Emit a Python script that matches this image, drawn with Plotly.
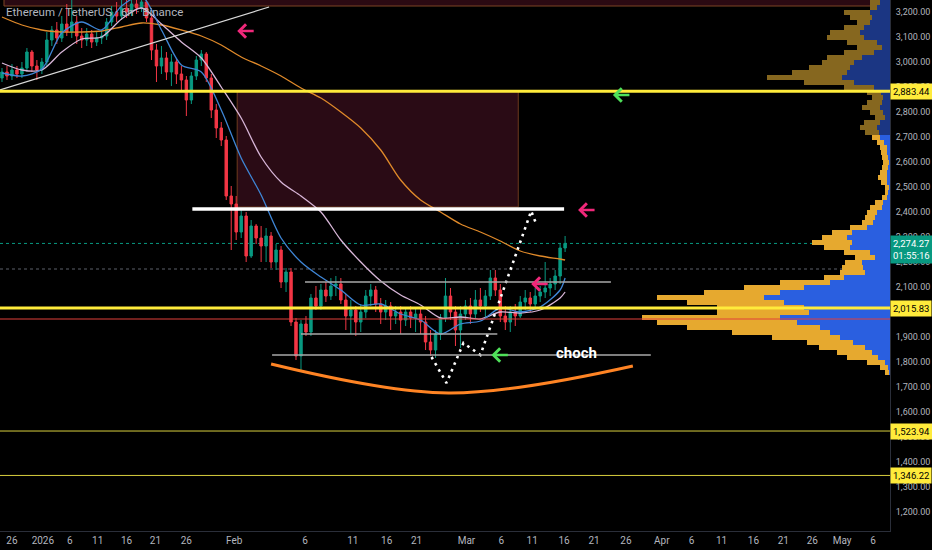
import plotly.graph_objects as go

# ETH/USDT 6h candles as they appear on the chart (one entry per drawn bar)
opens = [2936, 2960, 2944, 2968, 2952, 2976, 3040, 2984, 2968, 3000,
         3088, 3128, 3096, 3152, 3120, 3160, 3104, 3088, 3112, 3080,
         3096, 3104, 3160, 3200, 3184, 3216, 3200, 3232, 3216, 3240,
         3176, 3048, 2984, 3016, 2960, 3000, 2952, 2928, 2848, 2944,
         3008, 3032, 2936, 2808, 2736, 2688, 2464, 2432, 2320, 2384,
         2224, 2344, 2296, 2264, 2304, 2200, 2248, 2120, 2160, 1960,
         1824, 1952, 1920, 2056, 2024, 2088, 2064, 2104, 2112, 2048,
         1984, 2008, 1960, 2000, 2064, 2088, 2032, 2000, 2024, 1984,
         2000, 1968, 2000, 1976, 1992, 1960, 1880, 1848, 1912, 1976,
         2064, 2000, 1928, 1992, 2024, 1992, 2048, 2024, 2064, 2136,
         2088, 1984, 1960, 2000, 1984, 2040, 2056, 2032, 2064, 2080,
         2096, 2112, 2144, 2256]
highs = [2976, 2984, 2992, 2984, 3000, 3056, 3048, 3008, 3016, 3120,
         3144, 3160, 3184, 3232, 3248, 3184, 3136, 3136, 3128, 3120,
         3128, 3176, 3224, 3240, 3256, 3264, 3272, 3280, 3288, 3264,
         3192, 3072, 3064, 3040, 3032, 3016, 2984, 2944, 2960, 3024,
         3048, 3040, 2952, 2832, 2760, 2704, 2504, 2464, 2408, 2400,
         2368, 2352, 2344, 2336, 2320, 2272, 2264, 2176, 2176, 1976,
         1968, 1984, 2072, 2104, 2112, 2120, 2136, 2144, 2136, 2072,
         2048, 2024, 2032, 2088, 2112, 2104, 2056, 2048, 2040, 2024,
         2024, 2016, 2024, 2016, 2016, 1984, 1928, 1928, 1992, 2136,
         2096, 2024, 2024, 2048, 2056, 2088, 2096, 2088, 2168, 2168,
         2112, 2024, 2024, 2032, 2064, 2088, 2080, 2096, 2104, 2200,
         2136, 2168, 2272, 2304]
lows = [2920, 2928, 2928, 2936, 2936, 2960, 2960, 2928, 2952, 2984,
        3064, 3072, 3080, 3104, 3096, 3072, 3056, 3064, 3056, 3064,
        3072, 3088, 3144, 3160, 3168, 3176, 3184, 3192, 3200, 3160,
        3008, 2920, 2952, 2928, 2904, 2912, 2888, 2784, 2832, 2928,
        2984, 2920, 2776, 2696, 2664, 2448, 2248, 2288, 2296, 2200,
        2216, 2272, 2200, 2200, 2176, 2168, 2096, 2080, 1944, 1808,
        1760, 1904, 1904, 2008, 2008, 2040, 2048, 2064, 2032, 1928,
        1912, 1904, 1920, 1976, 2024, 2000, 1952, 1968, 1928, 1952,
        1912, 1944, 1936, 1920, 1912, 1848, 1824, 1816, 1888, 1960,
        1968, 1864, 1856, 1968, 1952, 1976, 2000, 1976, 2048, 2064,
        1960, 1928, 1920, 1944, 1976, 2008, 2000, 2016, 2040, 2056,
        2064, 2088, 2112, 2240]
closes = [2960, 2944, 2968, 2952, 2976, 3040, 2984, 2968, 3000, 3088,
          3128, 3096, 3152, 3120, 3160, 3104, 3088, 3112, 3080, 3096,
          3104, 3160, 3200, 3184, 3216, 3200, 3232, 3216, 3240, 3176,
          3048, 2984, 3016, 2960, 3000, 2952, 2928, 2848, 2944, 3008,
          3032, 2936, 2808, 2736, 2688, 2464, 2432, 2320, 2384, 2224,
          2344, 2296, 2264, 2304, 2200, 2248, 2120, 2160, 1960, 1824,
          1952, 1920, 2056, 2024, 2088, 2064, 2104, 2112, 2048, 1984,
          2008, 1960, 2000, 2064, 2088, 2032, 2000, 2024, 1984, 2000,
          1968, 2000, 1976, 1992, 1960, 1880, 1848, 1912, 1976, 2064,
          2000, 1928, 1992, 2024, 1992, 2048, 2024, 2064, 2136, 2088,
          1984, 1960, 2000, 1984, 2040, 2056, 2032, 2064, 2080, 2096,
          2112, 2144, 2256, 2274.27]

# moving averages every 4th bar
ema_bars = [0, 4, 8, 12, 16, 20, 24, 28, 32, 36, 40, 44, 48, 52, 56,
            60, 64, 68, 72, 76, 80, 84, 88, 92, 96, 100, 104, 108, 112, 113]
ema_fast = [2956, 2944, 2972, 3116, 3160, 3128, 3224, 3264, 3128, 2988,
            2960, 2808, 2616, 2468, 2296, 2200, 2140, 2088, 2028, 2032,
            1992, 1968, 1912, 1952, 1964, 2016, 2000, 2020, 2088, 2136]
ema_mid = [2996, 2968, 2968, 3040, 3092, 3100, 3172, 3216, 3152, 3080,
           3016, 2900, 2776, 2620, 2520, 2464, 2400, 2288, 2200, 2124,
           2068, 2028, 1976, 1980, 1972, 2000, 1996, 2008, 2056, 2080]
ema_slow = [3180, 3148, 3128, 3120, 3120, 3124, 3140, 3156, 3148, 3128,
            3104, 3068, 3020, 2984, 2944, 2896, 2856, 2800, 2736, 2648,
            2528, 2448, 2400, 2352, 2320, 2284, 2244, 2224, 2212, 2208]

# visible range volume profile (up / down volume per price row)
vp_price = [1760, 1780, 1800, 1820, 1840, 1860, 1880, 1900, 1920, 1940,
            1960, 1980, 2000, 2020, 2040, 2060, 2080, 2100, 2120, 2140,
            2160, 2180, 2200, 2220, 2240, 2260, 2280, 2300, 2320, 2340,
            2360, 2380, 2400, 2420, 2440, 2460, 2480, 2500, 2520, 2540,
            2560, 2580, 2600, 2620, 2640, 2660, 2680, 2700, 2720, 2740,
            2760, 2780, 2800, 2820, 2840, 2860, 2880, 2900, 2920, 2940,
            2960, 2980, 3000, 3020, 3040, 3060, 3080, 3100, 3120, 3140,
            3160, 3180, 3200, 3220, 3240]
vp_up = [1, 2, 5, 12, 18, 25, 37, 50, 60, 70,
         93, 110, 81, 86, 106, 126, 110, 86, 60, 46,
         25, 27, 28, 15, 20, 40, 38, 43, 38, 23,
         17, 15, 13, 8, 7, 3, 2, 1, 3, 3,
         3, 2, 1, 2, 3, 3, 6, 10, 11, 13,
         10, 5, 7, 10, 8, 7, 9, 16, 36, 48,
         43, 40, 36, 28, 16, 8, 13, 26, 30, 26,
         20, 18, 20, 13, 10]
vp_down = [4, 8, 18, 31, 35, 46, 46, 68, 98, 133,
           140, 138, 92, 87, 97, 107, 76, 60, 50, 20,
           25, 21, 17, 20, 26, 26, 40, 25, 20, 17,
           11, 10, 10, 12, 8, 5, 3, 4, 6, 9,
           7, 6, 6, 6, 6, 7, 7, 8, 14, 17,
           16, 10, 13, 18, 15, 11, 14, 30, 50, 75,
           55, 41, 32, 35, 30, 25, 30, 37, 30, 20,
           13, 22, 26, 7, 10]

# drawings
zone_bars = [47.2, 103.6]
zone_prices = [2420, 2884]
trend_bars = [-0.4, 53.6]
trend_prices = [2888, 3220]
path_bars = [86.2, 89.2, 92.6, 96.0, 106.2, 107.2]
path_prices = [1820, 1716, 1876, 1828, 2404, 2352]
arc_bars = [54.0, 89.6, 126.6]
arc_prices = [1792, 1676, 1784]
target_level = 2412
range_levels = [(2120, 60.8, 122.2), (1912, 60.0, 99.4), (1828, 54.2, 130.2)]
pink_arrows = [(47.2, 3124), (115.6, 2408), (106.2, 2112)]
green_arrows = [(122.6, 2868), (98.2, 1828)]
last_price = 2274.27
prev_level = 2172
red_level = 1972
strong_levels = [2883.44, 2015.83]
weak_levels = [1523.94, 1346.22]

price_ticks = [1200, 1300, 1400, 1500, 1600, 1700, 1800, 1900, 2000, 2100,
               2200, 2300, 2400, 2500, 2600, 2700, 2800, 2900, 3000, 3100, 3200]
date_tick_pos = [2, 8.2, 13.6, 19.2, 25, 30.8, 37, 46.6, 60.8, 70.4, 77.2, 83.2,
                 93.2, 100.2, 106.4, 112.8, 118.8, 125.2, 132.4, 138.4, 144.4,
                 150.8, 156.8, 162.6, 168.6, 174.8]
date_tick_text = ["26", "2026", "6", "11", "16", "21", "26", "Feb", "6", "11", "16",
                  "21", "Mar", "6", "11", "16", "21", "26", "Apr", "6", "11", "16",
                  "21", "26", "May", "6"]

X_MIN, X_MAX = -0.4, 178.2
Y_MIN, Y_MAX = 1124, 3248
GREEN = "#089981"
RED = "#f23645"
YELLOW = "#ffeb3b"
AXIS_TXT = "#b2b5be"

bars = list(range(len(opens)))

fig = go.Figure()

fig.add_trace(go.Candlestick(
    x=bars, open=opens, high=highs, low=lows, close=closes,
    increasing=dict(line=dict(color=GREEN, width=1), fillcolor=GREEN),
    decreasing=dict(line=dict(color=RED, width=1), fillcolor=RED),
    whiskerwidth=0, hoverinfo="skip"))

for vals, col in [(ema_slow, "#e08a2a"), (ema_mid, "#d8b6d8"), (ema_fast, "#3f86d6")]:
    fig.add_trace(go.Scatter(x=ema_bars, y=vals, mode="lines",
                             line=dict(color=col, width=1.3, shape="spline", smoothing=0.8),
                             hoverinfo="skip"))

# volume profile on its own reversed axis, growing out of the right edge
dim = [p > 2710 for p in vp_price]
fig.add_trace(go.Bar(y=vp_price, x=vp_up, orientation="h", xaxis="x2", width=20,
                     marker=dict(color=["#1b3683" if d else "#2a5fe0" for d in dim],
                                 line=dict(width=0)), hoverinfo="skip"))
fig.add_trace(go.Bar(y=vp_price, x=vp_down, orientation="h", xaxis="x2", width=20,
                     marker=dict(color=["#86671f" if d else "#e6a92f" for d in dim],
                                 line=dict(width=0)), hoverinfo="skip"))

fig.add_trace(go.Scatter(x=path_bars, y=path_prices, mode="lines",
                         line=dict(color="white", width=2.6, dash="2.6px,4.5px"),
                         hoverinfo="skip"))
fig.add_trace(go.Scatter(x=arc_bars, y=arc_prices, mode="lines",
                         line=dict(color="#ff8424", width=3, shape="spline"),
                         hoverinfo="skip"))

shapes = []
# top strip and supply zone
shapes.append(dict(type="rect", xref="x", yref="y", x0=0.4, x1=X_MAX, y0=3224, y1=3320,
                   fillcolor="#2a0912", line=dict(color="#7d4524", width=1), layer="below"))
shapes.append(dict(type="rect", xref="x", yref="y", x0=zone_bars[0], x1=zone_bars[1],
                   y0=zone_prices[0], y1=zone_prices[1], fillcolor="#2a0b15",
                   line=dict(color="#6e3a1e", width=1), layer="below"))
shapes.append(dict(type="line", xref="x", yref="y", x0=trend_bars[0], x1=trend_bars[1],
                   y0=trend_prices[0], y1=trend_prices[1],
                   line=dict(color="#d9d9d9", width=1.2)))
for lvl in strong_levels:
    shapes.append(dict(type="line", xref="paper", yref="y", x0=0, x1=1, y0=lvl, y1=lvl,
                       line=dict(color=YELLOW, width=3)))
for lvl in weak_levels:
    shapes.append(dict(type="line", xref="paper", yref="y", x0=0, x1=1, y0=lvl, y1=lvl,
                       line=dict(color="#d8cf3e", width=1)))
shapes.append(dict(type="line", xref="paper", yref="y", x0=0, x1=1, y0=red_level, y1=red_level,
                   line=dict(color="#e0403a", width=1.2)))
shapes.append(dict(type="line", xref="paper", yref="y", x0=0, x1=1, y0=last_price, y1=last_price,
                   line=dict(color=GREEN, width=1, dash="dot"), layer="below"))
shapes.append(dict(type="line", xref="paper", yref="y", x0=0, x1=1, y0=prev_level, y1=prev_level,
                   line=dict(color="#5d606b", width=1, dash="dot"), layer="below"))
shapes.append(dict(type="line", xref="x", yref="y", x0=38.2, x1=112.8,
                   y0=target_level, y1=target_level, line=dict(color="white", width=3.5)))
for lvl, b0, b1 in range_levels:
    shapes.append(dict(type="line", xref="x", yref="y", x0=b0, x1=b1, y0=lvl, y1=lvl,
                       line=dict(color="#a8a8a8", width=1.6)))

annotations = []
for bx, py in pink_arrows:
    annotations.append(dict(x=bx, y=py, xref="x", yref="y", text="", showarrow=True,
                            arrowhead=4, arrowsize=1, arrowwidth=2.6, arrowcolor="#f0287a",
                            ax=18, ay=0, standoff=0))
for bx, py in green_arrows:
    annotations.append(dict(x=bx, y=py, xref="x", yref="y", text="", showarrow=True,
                            arrowhead=4, arrowsize=1, arrowwidth=2.6, arrowcolor="#4fe05a",
                            ax=18, ay=0, standoff=0))
annotations.append(dict(x=115.2, y=1836, xref="x", yref="y", text="choch", showarrow=False,
                        font=dict(family="Roboto", size=15, color="white", weight=700)))
annotations.append(dict(x=0.005, y=1, xref="paper", yref="paper", xanchor="left", yanchor="top",
                        yshift=-3, text="Ethereum / TetherUS · 6h · Binance", showarrow=False,
                        font=dict(family="Roboto", size=11.5, color=AXIS_TXT)))

for lvl in strong_levels + weak_levels:
    annotations.append(dict(x=1, y=lvl, xref="paper", yref="y", xanchor="left",
                            text=f"{lvl:,.2f}", showarrow=False, bgcolor=YELLOW,
                            borderpad=2, font=dict(family="Roboto", size=9.5, color="black")))
annotations.append(dict(x=1, y=last_price, xref="paper", yref="y", xanchor="left",
                        yanchor="top", yshift=8, text=f"{last_price:,.2f}<br>01:55:16",
                        showarrow=False, bgcolor=GREEN, borderpad=2, align="left",
                        font=dict(family="Roboto", size=9.5, color="white")))

fig.update_layout(
    width=932, height=550,
    margin=dict(l=0, r=42, t=0, b=19, autoexpand=False),
    paper_bgcolor="black", plot_bgcolor="black",
    showlegend=False, barmode="stack", hovermode=False,
    shapes=shapes, annotations=annotations,
    xaxis=dict(range=[X_MIN, X_MAX], tickvals=date_tick_pos, ticktext=date_tick_text,
               showgrid=False, zeroline=False, rangeslider=dict(visible=False),
               tickfont=dict(family="Roboto", size=10, color=AXIS_TXT),
               showline=True, linecolor="#2a2e39", ticks="", automargin=False),
    xaxis2=dict(overlaying="x", anchor="y", range=[890, 0], visible=False),
    yaxis=dict(range=[Y_MIN, Y_MAX], side="right", tickvals=price_ticks,
               tickformat=",.2f", showgrid=False, zeroline=False,
               tickfont=dict(family="Roboto", size=9, color=AXIS_TXT),
               showline=True, linecolor="#2a2e39", ticks="", ticklabelstandoff=3,
               automargin=False),
)

# page body has a default margin; drop it so the chart fills the window exactly
fig.write_html("out.html", config={"displayModeBar": False},
               post_script="document.body.style.margin='0';"
                           "document.body.style.background='black';")
